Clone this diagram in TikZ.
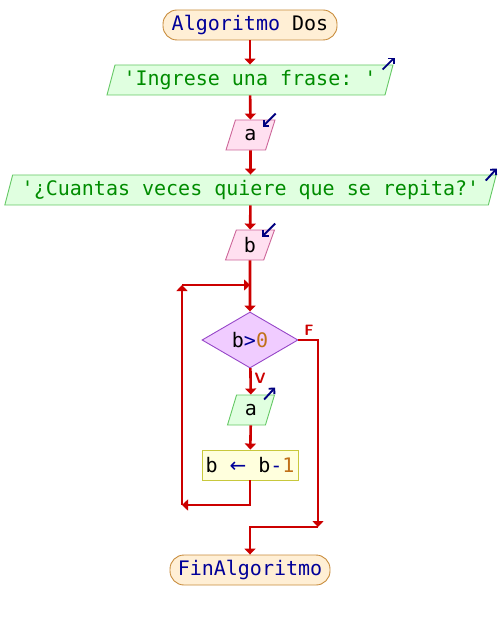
\documentclass[tikz,border=0pt]{standalone}
\usepackage{fontspec}
\setmonofont{DejaVu Sans Mono}
\newfontfamily\arrowfont{DejaVu Sans}
\usetikzlibrary{arrows.meta,shapes.geometric,calc}
\definecolor{flowred}{HTML}{CC0000}
\definecolor{kwblue}{HTML}{000099}
\definecolor{strgreen}{HTML}{008C00}
\definecolor{numbrown}{HTML}{C07018}
\definecolor{opblue}{HTML}{000099}
\definecolor{iconblue}{HTML}{000080}
\tikzset{
  base/.style={font=\ttfamily\fontsize{20}{24}\selectfont, inner sep=2pt, line width=0.9pt},
  termbox/.style={base, rectangle, rounded corners=14pt, draw={rgb,255:red,200;green,140;blue,60}, fill={rgb,255:red,255;green,239;blue,213}, minimum height=30pt},
  outbox/.style={base, trapezium, trapezium left angle=72, trapezium right angle=108, trapezium stretches=true, draw={rgb,255:red,100;green,200;blue,100}, fill={rgb,255:red,224;green,255;blue,224}, minimum height=30pt},
  inbox/.style={base, trapezium, trapezium left angle=72, trapezium right angle=108, trapezium stretches=true, draw={rgb,255:red,204;green,102;blue,153}, fill={rgb,255:red,255;green,224;blue,240}, minimum height=30pt},
  condbox/.style={base, diamond, draw={rgb,255:red,150;green,70;blue,200}, fill={rgb,255:red,240;green,204;blue,255}, minimum width=96pt, minimum height=56pt, inner sep=0pt},
  procbox/.style={base, rectangle, draw={rgb,255:red,200;green,200;blue,60}, fill={rgb,255:red,255;green,255;blue,221}, minimum width=96pt, minimum height=30pt},
  flow/.style={draw=flowred, line width=2.6pt, -{Triangle[length=6pt,width=11pt]}},
  icon/.style={draw=iconblue, line width=1.9pt, -{Straight Barb[length=4pt,width=8pt]}},
  lbl/.style={text=flowred, font=\sffamily\bfseries\fontsize{15}{17}\selectfont}
}
\begin{document}
\begin{tikzpicture}[x=1pt,y=-1pt]
\path[use as bounding box] (0,0) rectangle (500,620);

\node[termbox, minimum width=174pt] (start) at (250,25) {\textcolor{kwblue}{Algoritmo} Dos};
\node[outbox, minimum width=287pt] (out1) at (250,80) {\textcolor{strgreen}{'Ingrese una frase: '}};
\node[inbox, minimum width=49pt] (ina) at (250.5,135) {a};
\node[outbox, minimum width=493pt] (out2) at (250.5,190) {\textcolor{strgreen}{'¿Cuantas veces quiere que se repita?'}};
\node[inbox, minimum width=49pt] (inb) at (250,245) {b};
\node[condbox] (cond) at (250,340) {b\textcolor{opblue}{>}\textcolor{numbrown}{0}};
\node[outbox, minimum width=47pt] (outa) at (251,410) {a};
\node[procbox] (assign) at (250,465) {b \textcolor{opblue}{\arrowfont ←} b\textcolor{opblue}{-}\textcolor{numbrown}{1}};
\node[termbox, minimum width=160pt] (end) at (250,570) {\textcolor{kwblue}{FinAlgoritmo}};

% icons
\draw[icon] ($(out1.top right corner)+(-11,5)$) -- ($(out1.top right corner)+(1,-7)$);
\draw[icon] ($(out2.top right corner)+(-11,6)$) -- ($(out2.top right corner)+(0,-6)$);
\draw[icon] ($(outa.top right corner)+(-11,5)$) -- ($(outa.top right corner)+(0,-7)$);
\draw[icon] ($(ina.top right corner)+(0,-6)$) -- ($(ina.top right corner)+(-13,7)$);
\draw[icon] ($(inb.top right corner)+(0,-6)$) -- ($(inb.top right corner)+(-13,7)$);

% coordinates
\coordinate (jn) at (250,285);
\coordinate (jl) at (182,285);
\coordinate (bl) at (182,505);
\coordinate (br) at (250,505);
\coordinate (fr) at (318,340);
\coordinate (fb) at (318,527);
\coordinate (fm) at (250,527);

% connectors
\draw[flow] (start) -- (out1);
\draw[flow] (out1) -- (ina);
\draw[flow] (ina) -- (out2);
\draw[flow] (out2) -- (inb);
\draw[flow] (inb) -- (cond);
\draw[flow] (cond.east) -- (fr) -- (fb);
\draw[flow] (fb) -- (fm) -- (end);
\draw[flow] (cond) -- (outa);
\draw[flow] (outa) -- (assign);
\draw[flow] (assign) -- (br) -- (bl);
\draw[flow] (bl) -- (jl);
\draw[flow] (jl) -- (jn);

\node[lbl] (lf) at (309,330) {F};
\node[lbl] (lv) at (260,378) {V};
\end{tikzpicture}
\end{document}
